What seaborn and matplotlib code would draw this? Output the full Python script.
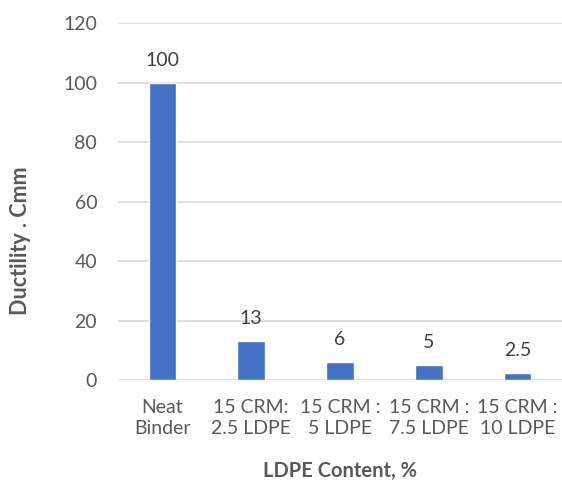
import matplotlib
matplotlib.use("Agg")
import matplotlib.pyplot as plt
import seaborn as sns
import pandas as pd

categories = ["Neat\nBinder", "15 CRM:\n2.5 LDPE", "15 CRM :\n5 LDPE", "15 CRM :\n7.5 LDPE", "15 CRM :\n10 LDPE"]
values = [100, 13, 6, 5, 2.5]
value_labels = ["100", "13", "6", "5", "2.5"]
yticks = [0, 20, 40, 60, 80, 100, 120]

sns.set_theme(style="white")
plt.rcParams['font.family'] = ['Lato', 'DejaVu Sans']

df = pd.DataFrame({"cat": categories, "val": values})

fig = plt.figure(figsize=(5.62, 4.91), dpi=100)
ax = fig.add_axes([0.21, 0.226, 0.79, 0.727])
sns.barplot(data=df, x="cat", y="val", color="#4472C4", width=0.31, saturation=1, ax=ax, zorder=3)

txt = "#595959"
ax.set_ylim(0, 120)
ax.set_xlim(-0.5, 4.5)
ax.set_yticks(yticks)
ax.yaxis.grid(True, color="#d9d9d9", linewidth=1.2, zorder=0)
ax.set_axisbelow(True)
for s in ax.spines.values():
    s.set_visible(False)
ax.tick_params(axis="both", length=0, labelsize=14, colors=txt)
ax.tick_params(axis="y", pad=15)
ax.tick_params(axis="x", pad=14)
for lbl in ax.get_xticklabels():
    lbl.set_linespacing(1.25)
ax.set_xlabel("LDPE Content, %", fontsize=14.5, fontweight="bold", color=txt, labelpad=17)
ax.set_ylabel("Ductility . Cmm", fontsize=15.5, fontweight="bold", color=txt)
ax.yaxis.set_label_coords(-0.196, 0.39)
ax.bar_label(ax.containers[0], labels=value_labels, padding=10, fontsize=14, color="#404040")

fig.savefig("out.png", dpi=100)
